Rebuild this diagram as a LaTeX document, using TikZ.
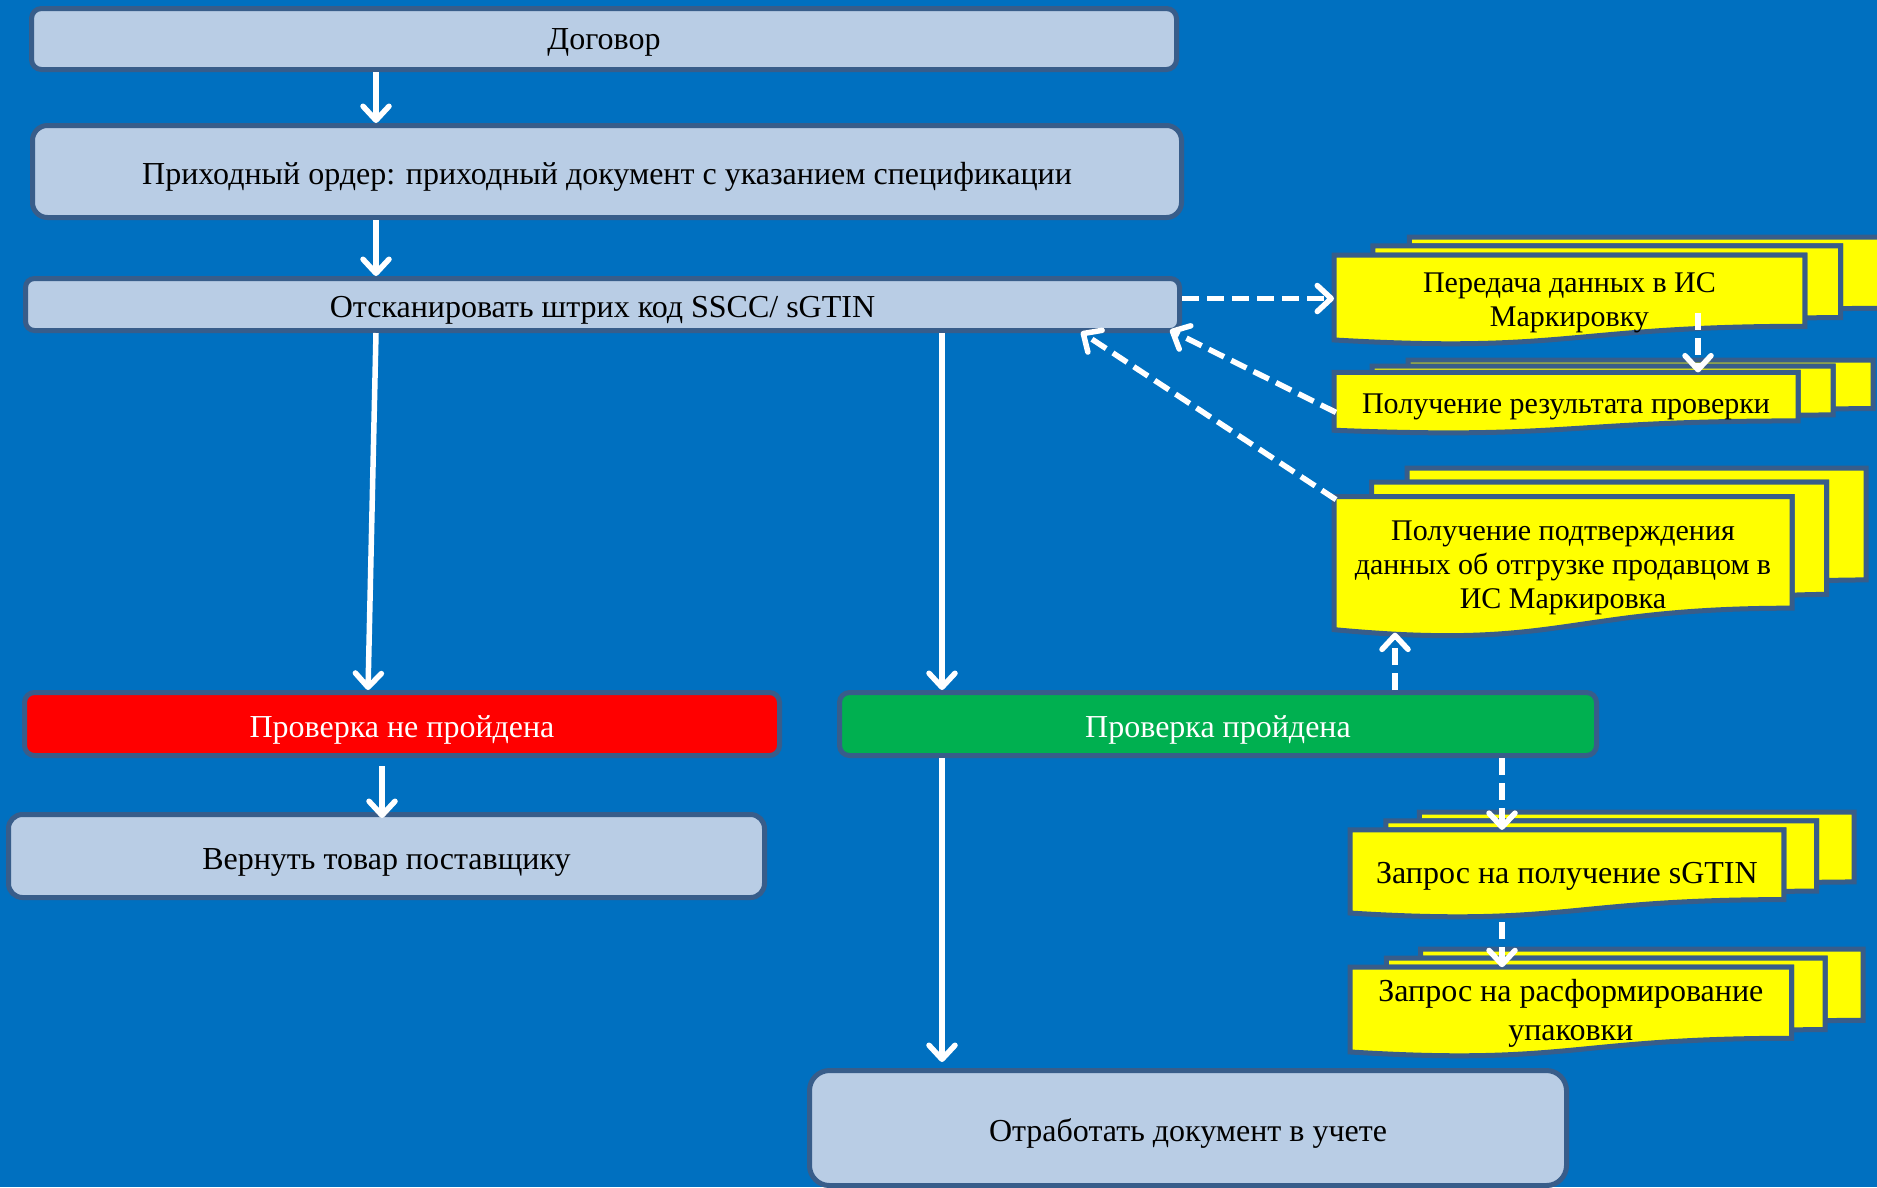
\documentclass[tikz,border=0pt]{standalone}
\usepackage{fontspec}
\setmainfont{Liberation Serif}
\usetikzlibrary{arrows.meta,calc}
\definecolor{bgblue}{HTML}{0070C0}
\definecolor{edgeblue}{HTML}{385D8A}
\definecolor{lightbox}{HTML}{B9CDE5}
\definecolor{okgreen}{HTML}{00B050}
\definecolor{failred}{HTML}{FF0000}
\definecolor{docyellow}{HTML}{FFFF00}
\tikzset{
  box/.style={draw=edgeblue, line width=5pt, fill=lightbox, rounded corners=#1,
    inner sep=0pt, font=\fontsize{32}{36}\selectfont, text=black,
    text height=33pt, text depth=7pt},
  box/.default=10pt,
  redbox/.style={box, fill=failred, text=white},
  greenbox/.style={box, fill=okgreen, text=white},
  docshape/.style={draw=edgeblue, line width=5pt, fill=docyellow},
  doctext/.style={align=center, inner sep=0pt, text=black, font=\fontsize{30}{34}\selectfont},
  bigdoctext/.style={font=\fontsize{32}{39}\selectfont},
  arr/.style={draw=white, line width=5.5pt, -{Straight Barb[length=14pt,width=26pt,round]}},
  darr/.style={arr, dash pattern=on 17pt off 8pt},
}
\newcommand{\mdoc}[8][]{%
  \begin{scope}[shift={(#3,#4)},xscale=#5/216,yscale=#6/216]
    \filldraw[docshape] (29.72,18.15) -- (29.72,0) -- (216,0) -- (216,143.92)
      .. controls (208,143.92) and (200,144.67) .. (200,144.67) -- (200,18.15) -- cycle;
    \filldraw[docshape] (15.32,36.75) -- (15.32,18.15) -- (200,18.15) -- (200,162.52)
      .. controls (192.98,162.52) and (185.95,163.52) .. (185.95,163.52) -- (185.95,36.75) -- cycle;
    \filldraw[docshape] (0,207.82) .. controls (92.98,235.42) and (92.98,180.22) .. (185.95,180.22)
      -- (185.95,36.75) -- (0,36.75) -- cycle;
    \coordinate (#2-nw) at (0,36.75);
    \coordinate (#2-ne) at (185.95,36.75);
    \coordinate (#2-sw) at (0,207.82);
  \end{scope}
  \pgfmathsetmacro{\mdx}{#3+0.43044*#5}
  \node[doctext,#1] (#2) at (\mdx,#7) {#8};
}
\begin{document}
\begin{tikzpicture}[x=1pt,y=-1pt]
\useasboundingbox (0,0) rectangle (1877,1187);
\clip (0,0) rectangle (1877,1187);
\fill[bgblue] (0,0) rectangle (1877,1187);

\node[box=10pt, minimum width=1145pt, minimum height=61pt, text height=28pt] (dog) at (604,39) {Договор};
\node[box=15pt, minimum width=1149pt, minimum height=92pt] (prih) at (607,171.5)
  {Приходный ордер: приходный документ с указанием спецификации};
\node[box=9pt, minimum width=1154pt, minimum height=52pt] (scan) at (602.5,304.5)
  {Отсканировать штрих код SSCC/ sGTIN};
\node[redbox, minimum width=755pt, minimum height=63pt] (fail) at (402,724) {Проверка не пройдена};
\node[box=14pt, minimum width=756pt, minimum height=83pt] (ret) at (386.5,856) {Вернуть товар поставщику};
\node[greenbox, minimum width=757pt, minimum height=63pt] (ok) at (1218,724) {Проверка пройдена};
\node[box=20pt, minimum width=757pt, minimum height=115pt] (done) at (1188,1128)
  {Отработать документ в учете};

\mdoc{A}{1334}{237}{547}{107}{303}{Передача данных в ИС\\Маркировку}
\mdoc{B}{1334}{360}{539}{73}{407}{Получение результата проверки}
\mdoc{C}{1334}{468}{532}{168}{568}{Получение подтверждения\\данных об отгрузке продавцом в\\ИС Маркировка}
\mdoc[bigdoctext]{D}{1350}{812}{504}{105}{876}{Запрос на получение sGTIN}
\mdoc[bigdoctext]{E}{1350}{949}{513}{107}{1013}{Запрос на расформирование\\упаковки}

% solid arrows
\draw[arr] (376,0 |- dog.south) -- (376,0 |- prih.north);
\draw[arr] (376,0 |- prih.south) -- (376,0 |- scan.north);
\draw[arr] (376,0 |- scan.south) -- (368,0 |- fail.north);
\draw[arr] (942,0 |- scan.south) -- (942,0 |- ok.north);
\draw[arr] ($(382,0 |- fail.south)+(0,8)$) -- ($(382,0 |- ret.north)+(0,6)$);
\draw[arr] (942,0 |- ok.south) -- ($(942,0 |- done.north)+(0,-6)$);

% dashed arrows
\draw[darr] ($(scan.east)+(0,-6)$) coordinate (d1s) -- (A-nw |- d1s);
\draw[darr] ($(B-nw)+(2,40)$) -- ($(scan.south east)+(-12,-3)$);
\draw[darr] ($(C-nw)+(2,3)$) -- ($(1081,0 |- scan.south)+(0,-1)$);
\draw[darr] ($(1698,0 |- A-nw)+(0,58)$) -- (1698,0 |- B-nw);
\draw[darr] (1395,0 |- ok.north) -- ($(1395,0 |- C-sw)+(0,3)$);
\draw[darr] (1502,0 |- ok.south) -- (1502,0 |- D-nw);
\draw[darr] ($(1502,0 |- D-sw)+(0,9)$) -- (1502,0 |- E-nw);
\end{tikzpicture}
\end{document}
